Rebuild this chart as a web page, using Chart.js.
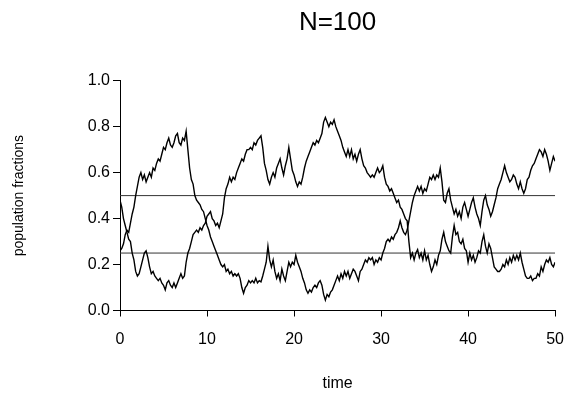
<!DOCTYPE html>
<html>
<head>
<meta charset="utf-8">
<script src="https://cdn.jsdelivr.net/npm/chart.js@4.4.1/dist/chart.umd.min.js"></script>
<style>
  html, body { margin: 0; padding: 0; background: #fff; }
  #wrap { width: 577px; height: 394px; }
</style>
</head>
<body>
<div id="wrap"><canvas id="chart" width="577" height="394"></canvas></div>
<script>
// time grid: one reading every 0.2 time units, 0..50
const time = Array.from({ length: 251 }, (_, i) => i / 5);

// fraction that starts near 0.5
const fracA = [
  0.48, 0.45, 0.40, 0.37, 0.34,
  0.31, 0.30, 0.25, 0.22, 0.17,
  0.15, 0.16, 0.19, 0.22, 0.25,
  0.26, 0.23, 0.19, 0.16, 0.17,
  0.15, 0.14, 0.13, 0.14, 0.12,
  0.11, 0.09, 0.12, 0.13, 0.11,
  0.10, 0.12, 0.10, 0.12, 0.14,
  0.16, 0.14, 0.15, 0.21, 0.25,
  0.27, 0.30, 0.33, 0.34, 0.35,
  0.34, 0.36, 0.35, 0.37, 0.38,
  0.41, 0.42, 0.43, 0.40, 0.39,
  0.37, 0.38, 0.36, 0.39, 0.42,
  0.49, 0.53, 0.55, 0.58, 0.56,
  0.58, 0.57, 0.60, 0.62, 0.64,
  0.66, 0.65, 0.68, 0.70, 0.70,
  0.71, 0.70, 0.73, 0.72, 0.74,
  0.75, 0.76, 0.71, 0.64, 0.61,
  0.57, 0.55, 0.58, 0.60, 0.58,
  0.62, 0.64, 0.66, 0.62, 0.59,
  0.63, 0.66, 0.71, 0.66, 0.61,
  0.59, 0.56, 0.54, 0.56, 0.55,
  0.58, 0.62, 0.65, 0.67, 0.69,
  0.71, 0.73, 0.72, 0.74, 0.73,
  0.75, 0.77, 0.82, 0.84, 0.82,
  0.80, 0.82, 0.81, 0.83, 0.80,
  0.78, 0.76, 0.74, 0.71, 0.69,
  0.67, 0.70, 0.67, 0.70, 0.66,
  0.68, 0.65, 0.68, 0.70, 0.66,
  0.63, 0.62, 0.60, 0.59, 0.58,
  0.59, 0.58, 0.60, 0.62, 0.60,
  0.61, 0.63, 0.58, 0.55, 0.54,
  0.52, 0.53, 0.51, 0.49, 0.47,
  0.48, 0.45, 0.44, 0.42, 0.40,
  0.39, 0.30, 0.23, 0.25, 0.22,
  0.25, 0.265, 0.23, 0.25, 0.22,
  0.26, 0.22, 0.24, 0.20, 0.17,
  0.19, 0.22, 0.20, 0.24, 0.26,
  0.31, 0.34, 0.30, 0.28, 0.26,
  0.25, 0.32, 0.37, 0.33, 0.34,
  0.30, 0.29, 0.31, 0.27, 0.26,
  0.21, 0.25, 0.22, 0.24, 0.21,
  0.23, 0.26, 0.25, 0.30, 0.33,
  0.28, 0.25, 0.29, 0.27, 0.23,
  0.19, 0.18, 0.17, 0.17, 0.18,
  0.20, 0.19, 0.22, 0.20, 0.23,
  0.21, 0.24, 0.22, 0.24, 0.22,
  0.25, 0.21, 0.18, 0.15, 0.14,
  0.14, 0.15, 0.13, 0.14, 0.14,
  0.16, 0.15, 0.19, 0.17, 0.20,
  0.22, 0.21, 0.23, 0.20, 0.19,
  0.21
];

// fraction that starts near 0.25
const fracB = [
  0.26, 0.27, 0.29, 0.33, 0.35,
  0.34, 0.38, 0.42, 0.45, 0.50,
  0.54, 0.58, 0.60, 0.57, 0.59,
  0.56, 0.58, 0.60, 0.58, 0.62,
  0.61, 0.64, 0.66, 0.65, 0.68,
  0.71, 0.70, 0.73, 0.75, 0.72,
  0.71, 0.73, 0.76, 0.77, 0.73,
  0.72, 0.75, 0.74, 0.78, 0.70,
  0.62, 0.57, 0.55, 0.50, 0.48,
  0.47, 0.46, 0.44, 0.43, 0.40,
  0.37, 0.35, 0.32, 0.30, 0.28,
  0.26, 0.24, 0.22, 0.20, 0.19,
  0.20, 0.17, 0.18, 0.16, 0.17,
  0.15, 0.16, 0.15, 0.16, 0.14,
  0.10, 0.075, 0.10, 0.11, 0.13,
  0.12, 0.13, 0.12, 0.14, 0.12,
  0.13, 0.125, 0.15, 0.18, 0.21,
  0.28, 0.22, 0.19, 0.22, 0.17,
  0.14, 0.16, 0.13, 0.18, 0.15,
  0.13, 0.17, 0.21, 0.19, 0.21,
  0.20, 0.24, 0.21, 0.19, 0.17,
  0.14, 0.12, 0.09, 0.075, 0.09,
  0.08, 0.10, 0.11, 0.10, 0.12,
  0.13, 0.11, 0.07, 0.045, 0.07,
  0.06, 0.08, 0.09, 0.11, 0.13,
  0.15, 0.13, 0.16, 0.14, 0.17,
  0.15, 0.17, 0.14, 0.16, 0.18,
  0.17, 0.15, 0.13, 0.17, 0.18,
  0.20, 0.22, 0.21, 0.23, 0.22,
  0.23, 0.20, 0.22, 0.21, 0.23,
  0.22, 0.25, 0.27, 0.30, 0.31,
  0.30, 0.32, 0.31, 0.33, 0.34,
  0.36, 0.39, 0.36, 0.34, 0.33,
  0.35, 0.39, 0.43, 0.47, 0.50,
  0.52, 0.54, 0.52, 0.54, 0.51,
  0.53, 0.52, 0.55, 0.58, 0.57,
  0.59, 0.57, 0.59, 0.58, 0.62,
  0.56, 0.48, 0.47, 0.51, 0.53,
  0.48, 0.45, 0.42, 0.44, 0.41,
  0.43, 0.40, 0.45, 0.47, 0.44,
  0.41, 0.44, 0.47, 0.49, 0.45,
  0.42, 0.40, 0.37, 0.43, 0.48,
  0.50, 0.46, 0.44, 0.41, 0.43,
  0.46, 0.49, 0.53, 0.55, 0.57,
  0.60, 0.63, 0.60, 0.58, 0.56,
  0.57, 0.59, 0.58, 0.55, 0.53,
  0.56, 0.53, 0.51, 0.53, 0.57,
  0.58, 0.61, 0.63, 0.64, 0.66,
  0.68, 0.70, 0.69, 0.67, 0.70,
  0.68, 0.65, 0.61, 0.64, 0.67,
  0.65
];

// horizontal reference levels
const levels = [0.5, 0.25];
const timeRange = [0, 50];

const toPoints = (xs, ys) => xs.map((x, i) => ({ x: x, y: ys[i] }));

const traceStyle = {
  borderColor: '#000',
  borderWidth: 1.4,
  pointRadius: 0,
  tension: 0,
  fill: false
};

const datasets = [
  Object.assign({ label: 'A', data: toPoints(time, fracA) }, traceStyle),
  Object.assign({ label: 'B', data: toPoints(time, fracB) }, traceStyle)
];
levels.forEach((v) => {
  datasets.push({
    label: 'level ' + v,
    data: timeRange.map((t) => ({ x: t, y: v })),
    borderColor: '#333',
    borderWidth: 1,
    pointRadius: 0,
    fill: false
  });
});

const FONT = '"Liberation Sans", Arial, Helvetica, sans-serif';

new Chart(document.getElementById('chart'), {
  type: 'line',
  data: { datasets: datasets },
  options: {
    responsive: false,
    animation: false,
    events: [],
    layout: { padding: { top: 0, right: 20, bottom: 0, left: 0 } },
    plugins: {
      legend: { display: false },
      tooltip: { enabled: false },
      title: {
        display: true,
        text: 'N=100',
        fullSize: false,
        color: '#000',
        font: { family: FONT, size: 26, weight: 'normal' },
        padding: { top: 7, bottom: 42.5 }
      }
    },
    scales: {
      x: {
        type: 'linear',
        min: 0,
        max: 50,
        grid: { display: true, drawOnChartArea: false, drawTicks: true, tickLength: 6, color: '#000' },
        border: { display: true, color: '#000', width: 1 },
        ticks: {
          stepSize: 10,
          color: '#000',
          padding: 13,
          maxRotation: 0,
          font: { family: FONT, size: 16 }
        },
        title: {
          display: true,
          text: 'time',
          color: '#000',
          font: { family: FONT, size: 16 },
          padding: { top: 1, bottom: 1 }
        },
        afterFit: (scale) => { scale.height = 83.5; }
      },
      y: {
        type: 'linear',
        min: 0,
        max: 1,
        grid: { display: true, drawOnChartArea: false, drawTicks: true, tickLength: 7, color: '#000' },
        border: { display: true, color: '#000', width: 1 },
        ticks: {
          stepSize: 0.2,
          color: '#000',
          padding: 3,
          font: { family: FONT, size: 16 },
          callback: (v) => v.toFixed(1)
        },
        title: {
          display: true,
          text: 'population fractions',
          color: '#000',
          font: { family: FONT, size: 14 },
          padding: { top: 11, bottom: 11 }
        },
        afterFit: (scale) => { scale.width = 120; }
      }
    }
  }
});
</script>
</body>
</html>
